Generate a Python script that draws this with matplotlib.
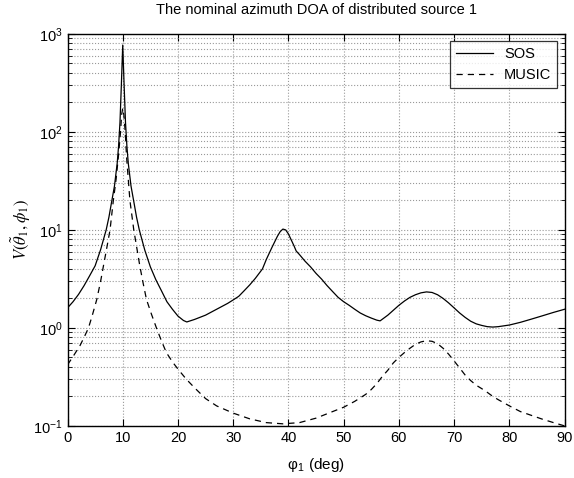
import matplotlib
matplotlib.use('Agg')
import matplotlib.pyplot as plt
from matplotlib import ticker

plt.rcParams['font.family'] = ['Liberation Sans', 'DejaVu Sans']
plt.rcParams['mathtext.fontset'] = 'stix'

# azimuth grid (deg) and spectrum values
phi_sos = [0, 1, 2, 3, 4, 5, 6, 7, 7.5, 8, 8.5, 9, 9.25, 9.5, 9.75, 10, 10.25, 10.5,
           10.75, 11, 11.5, 12, 12.5, 13, 14, 15, 16, 17, 18, 19, 20, 21, 21.6, 23,
           25, 27, 29, 30, 31, 32, 33, 34, 35.3, 36, 37, 38, 38.5, 39, 39.5, 40, 41,
           41.4, 42, 43, 44, 45, 46, 47, 48, 49, 50, 51, 52, 53, 54, 55, 56, 56.6,
           58, 60, 61, 62, 63, 64, 65, 66, 67, 68, 69, 70, 71, 72, 73, 74, 75, 76,
           77, 78, 80, 82, 84, 86, 88, 90]
sos = [1.6, 1.85, 2.2, 2.7, 3.4, 4.3, 6.3, 10, 13.5, 19.5, 28, 48, 72, 125, 300, 770,
       300, 125, 72, 48, 28, 19.5, 13.5, 10, 6.2, 4.2, 3.1, 2.4, 1.85, 1.55, 1.32, 1.19,
       1.15, 1.22, 1.35, 1.55, 1.78, 1.93, 2.1, 2.4, 2.75, 3.2, 4.0, 5.0, 6.6, 8.6,
       9.6, 10.2, 10.0, 9.1, 6.9, 6.1, 5.6, 4.8, 4.2, 3.6, 3.15, 2.7, 2.35, 2.05,
       1.85, 1.7, 1.55, 1.42, 1.33, 1.26, 1.2, 1.18, 1.35, 1.7, 1.88, 2.05, 2.18,
       2.28, 2.33, 2.3, 2.18, 2.0, 1.8, 1.6, 1.42, 1.28, 1.17, 1.1, 1.06, 1.03, 1.02,
       1.03, 1.07, 1.14, 1.23, 1.33, 1.44, 1.55]

phi_music = [0, 1, 2.26, 3, 3.8, 4.5, 5.3, 6, 6.5, 7.1, 7.7, 8.3, 8.8, 9.2, 9.6, 9.8,
             10, 10.2, 10.45, 10.7, 11, 11.3, 12, 12.5, 13.1, 13.7, 14.3, 15.2, 16.1,
             17, 17.9, 19, 20, 21.5, 23, 25, 27, 30, 33, 36, 39, 42, 45, 48, 50, 52, 54,
             55, 56, 57, 58, 59, 60, 61, 62, 63, 64, 65, 66, 67, 68, 69, 70, 71, 72, 73,
             74, 75, 76, 77, 78, 80, 82, 84, 86, 88, 90]
music = [0.42, 0.51, 0.66, 0.8, 1.0, 1.35, 1.95, 3.0, 4.27, 6.5, 10, 20, 33, 55, 100,
         150, 175, 150, 100, 55, 33, 20, 10, 6.8, 4.27, 2.85, 1.95, 1.38, 1.0, 0.74,
         0.56, 0.45, 0.38, 0.3, 0.245, 0.19, 0.16, 0.135, 0.118, 0.108, 0.105, 0.108,
         0.12, 0.14, 0.155, 0.178, 0.21, 0.235, 0.27, 0.32, 0.37, 0.44, 0.5, 0.56,
         0.62, 0.68, 0.72, 0.74, 0.73, 0.69, 0.62, 0.54, 0.46, 0.39, 0.33, 0.29, 0.26,
         0.24, 0.22, 0.2, 0.185, 0.16, 0.14, 0.128, 0.117, 0.108, 0.1]

fig = plt.figure(figsize=(5.74, 4.78), dpi=100)
ax = fig.add_axes([0.1176, 0.109, 0.866, 0.82])

ax.semilogy(phi_sos, sos, '-', color='black', linewidth=0.9, label='SOS')
ax.semilogy(phi_music, music, '--', color='black', linewidth=0.9, label='MUSIC', dashes=(5, 4))

ax.set_xlim(0, 90)
ax.set_ylim(0.1, 1000)
ax.set_xticks(range(0, 91, 10))
ax.yaxis.set_minor_locator(ticker.LogLocator(base=10, subs=range(2, 10)))
ax.yaxis.set_minor_formatter(ticker.NullFormatter())

ax.grid(True, which='major', axis='both', linestyle=':', color='#999999', linewidth=0.8)
ax.grid(True, which='minor', axis='y', linestyle=':', color='#999999', linewidth=0.8)
ax.tick_params(which='both', direction='in', top=True, right=True, labelsize=10.5)
ax.tick_params(which='major', length=5)
ax.tick_params(which='minor', length=3)
for s in ax.spines.values():
    s.set_linewidth(1.0)

ax.set_title('The nominal azimuth DOA of distributed source 1', fontsize=10.5, pad=14)
ax.set_xlabel(r'φ$_\mathdefault{1}$ (deg)', fontsize=11, labelpad=8)
ax.set_ylabel(r'$V(\tilde{\theta}_1,\phi_1)$', fontsize=12, labelpad=0)

leg = ax.legend(loc='upper right', fontsize=10.5, frameon=True, fancybox=False,
                edgecolor='black', handlelength=2.5, borderaxespad=0.5)
leg.get_frame().set_linewidth(0.9)

fig.savefig('out.png', dpi=100)
